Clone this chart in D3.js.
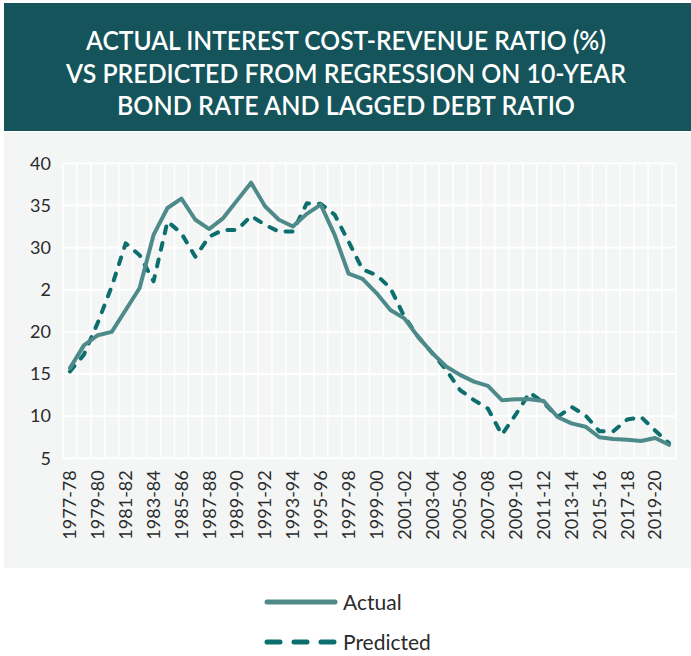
<!DOCTYPE html>
<html>
<head>
<meta charset="utf-8">
<script src="https://cdn.jsdelivr.net/npm/d3@7/dist/d3.min.js"></script>
<style>
  html, body { margin: 0; padding: 0; background: #ffffff; }
  svg { display: block; }
</style>
</head>
<body>
<svg id="chart" width="691" height="656"></svg>
<script>
const titleLines = [
  "ACTUAL INTEREST COST-REVENUE RATIO (%)",
  "VS PREDICTED FROM REGRESSION ON 10-YEAR",
  "BOND RATE AND LAGGED DEBT RATIO"
];
const categories = [
  "1977-78","1978-79","1979-80","1980-81","1981-82","1982-83","1983-84","1984-85",
  "1985-86","1986-87","1987-88","1988-89","1989-90","1990-91","1991-92","1992-93",
  "1993-94","1994-95","1995-96","1996-97","1997-98","1998-99","1999-00","2000-01",
  "2001-02","2002-03","2003-04","2004-05","2005-06","2006-07","2007-08","2008-09",
  "2009-10","2010-11","2011-12","2012-13","2013-14","2014-15","2015-16","2016-17",
  "2017-18","2018-19","2019-20","2020-21"
];
const actual = [15.7, 18.4, 19.6, 20.0, 22.6, 25.2, 31.5, 34.7, 35.8, 33.3,
  32.2, 33.5, 35.6, 37.7, 34.9, 33.3, 32.5, 34.0, 35.1, 31.5,
  26.9, 26.3, 24.6, 22.6, 21.6, 19.4, 17.5, 15.9, 14.9, 14.1,
  13.6, 11.9, 12.0, 12.0, 11.8, 9.9, 9.15, 8.75, 7.5, 7.3,
  7.2, 7.05, 7.4, 6.6];
const predicted = [15.3, 17.3, 21.1, 25.4, 30.5, 29.1, 26.0, 33.1, 31.7, 28.9,
  31.3, 32.1, 32.1, 33.75, 32.7, 31.9, 31.9, 35.25, 35.2, 33.9,
  30.7, 27.4, 26.75, 25.2, 21.8, 19.4, 17.5, 15.5, 13.1, 11.9,
  10.9, 7.8, 10.2, 12.8, 11.6, 9.9, 11.1, 10.1, 8.2, 8.2,
  9.6, 9.9, 8.3, 6.8];
const yTickValues = [5, 10, 15, 20, 25, 30, 35, 40];
const yTickLabels = ["5", "10", "15", "20", "2", "30", "35", "40"];
const xTickLabels = categories.filter((d, i) => i % 2 === 0);
const seriesNames = ["Actual", "Predicted"];

const svg = d3.select("#chart");
const W = 691, H = 656;
const colActual = "#4d8a89", colPred = "#0c6f6e";
const font = "Lato, 'Open Sans', sans-serif";

// title banner
svg.append("rect").attr("x", 4).attr("y", 3).attr("width", W - 4).attr("height", 128)
  .attr("fill", "#14545a");
const tLens = [520, 560, 458];
const tBase = [50, 83, 115];
titleLines.forEach((t, i) => {
  svg.append("text").attr("x", 346).attr("y", tBase[i])
    .attr("text-anchor", "middle").attr("fill", "#ffffff")
    .attr("font-family", font).attr("font-weight", 600).attr("font-size", 26)
    .attr("textLength", tLens[i]).attr("lengthAdjust", "spacingAndGlyphs")
    .text(t);
});

// chart panel
svg.append("rect").attr("x", 4).attr("y", 132).attr("width", W - 4).attr("height", 436)
  .attr("fill", "#f4f6f6");

const m = { left: 63, right: 676, top: 163.3, bottom: 458.3 };
const x = d3.scaleBand().domain(categories).range([m.left, m.right]).padding(0);
const y = d3.scaleLinear().domain([5, 40]).range([m.bottom, m.top]);
const cx = d => x(d) + x.bandwidth() / 2;

// grid
const g = svg.append("g");
const edges = categories.map(c => x(c)).concat([m.right]);
g.selectAll("line.v").data(edges).join("line")
  .attr("x1", d => d).attr("x2", d => d).attr("y1", m.top).attr("y2", m.bottom)
  .attr("stroke", "#ffffff").attr("stroke-width", 1.5);
g.selectAll("line.h").data(yTickValues).join("line")
  .attr("x1", m.left).attr("x2", m.right).attr("y1", d => y(d)).attr("y2", d => y(d))
  .attr("stroke", "#ffffff").attr("stroke-width", 1.8);

// y axis
const yAxis = d3.axisLeft(y).tickValues(yTickValues)
  .tickFormat((d, i) => yTickLabels[i]).tickSize(0).tickPadding(0);
const ya = svg.append("g").attr("transform", `translate(51,0)`).call(yAxis);
ya.select(".domain").remove();
ya.selectAll("text").attr("font-family", font).attr("font-size", 18).attr("fill", "#2b2b2b");

// x axis
const xAxis = d3.axisBottom(x).tickValues(xTickLabels).tickSize(0).tickPadding(0);
const xa = svg.append("g").attr("transform", `translate(0,${m.bottom + 12})`).call(xAxis);
xa.select(".domain").remove();
xa.selectAll("text").attr("font-family", font).attr("font-size", 18).attr("fill", "#2b2b2b")
  .attr("text-anchor", "end").attr("dy", "0.35em").attr("dx", 0)
  .attr("transform", "rotate(-90)").attr("x", 0).attr("y", 0);
xa.selectAll(".tick").each(function () {
  d3.select(this).select("text").attr("y", 0);
});

// lines
const line = vals => d3.line().x((d, i) => cx(categories[i])).y(d => y(d))(vals);
svg.append("path").attr("d", line(predicted)).attr("fill", "none")
  .attr("stroke", colPred).attr("stroke-width", 4).attr("stroke-linecap", "round")
  .attr("stroke-linejoin", "round").attr("stroke-dasharray", "7,10");
svg.append("path").attr("d", line(actual)).attr("fill", "none")
  .attr("stroke", colActual).attr("stroke-width", 4).attr("stroke-linejoin", "round")
  .attr("stroke-linecap", "round");

// legend
const leg = svg.append("g");
const legY = [602, 642];
seriesNames.forEach((s, i) => {
  leg.append("line").attr("x1", 267).attr("x2", 335).attr("y1", legY[i]).attr("y2", legY[i])
    .attr("stroke", i === 0 ? colActual : colPred).attr("stroke-width", 5)
    .attr("stroke-linecap", "round")
    .attr("stroke-dasharray", i === 0 ? null : "13,14");
  leg.append("text").attr("x", 343).attr("y", legY[i]).attr("dy", "0.36em")
    .attr("font-family", font).attr("font-size", 21).attr("fill", "#2b2b2b").text(s);
});
</script>
</body>
</html>
